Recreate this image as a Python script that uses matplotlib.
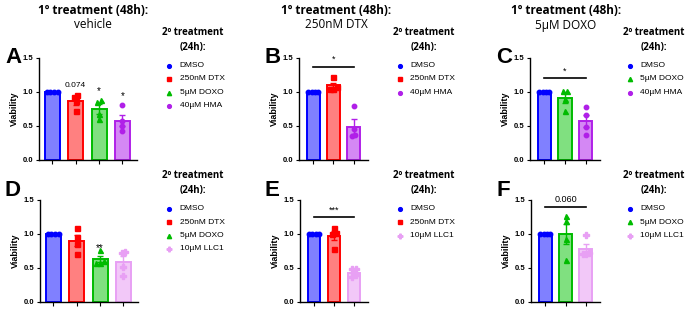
import numpy as np
import matplotlib
matplotlib.use("Agg")
import matplotlib.pyplot as plt
from matplotlib.lines import Line2D

# ---- data ----
a_labels = ["DMSO", "250nM DTX", "5µM DOXO", "40µM HMA"]
a_vals = [[1.0, 1.0, 1.0, 1.0], [0.95, 0.93, 0.87, 0.72], [0.88, 0.86, 0.67, 0.60], [0.81, 0.58, 0.50, 0.43]]

b_labels = ["DMSO", "250nM DTX", "40µM HMA"]
b_vals = [[1.0, 1.0, 1.0, 1.0], [1.22, 1.08, 1.05, 1.04], [0.80, 0.45, 0.37, 0.35]]

c_labels = ["DMSO", "5µM DOXO", "40µM HMA"]
c_vals = [[1.0, 1.0, 1.0, 1.0], [1.01, 1.02, 0.89, 0.72], [0.78, 0.66, 0.49, 0.37]]

d_labels = ["DMSO", "250nM DTX", "5µM DOXO", "10µM LLC1"]
d_vals = [[1.0, 1.0, 1.0, 1.0], [1.09, 0.96, 0.85, 0.70], [0.77, 0.60, 0.58, 0.57], [0.73, 0.72, 0.51, 0.38]]

e_labels = ["DMSO", "250nM DTX", "10µM LLC1"]
e_vals = [[1.0, 1.0, 1.0, 1.0], [1.09, 1.02, 1.0, 0.78], [0.49, 0.48, 0.39, 0.37]]

f_labels = ["DMSO", "5µM DOXO", "10µM LLC1"]
f_vals = [[1.0, 1.0, 1.0, 1.0], [1.27, 1.19, 0.93, 0.62], [0.99, 0.72, 0.70, 0.70]]

titles = ["vehicle", "250nM DTX", "5µM DOXO"]

# style per treatment: edge, fill, marker, marker size
styles = {
    "DMSO": ("#0000ff", "#8080ff", "o", 3.2),
    "250nM DTX": ("#ff0000", "#ff8080", "s", 3.6),
    "5µM DOXO": ("#00bb00", "#80e080", "^", 3.6),
    "40µM HMA": ("#b020e8", "#d488f4", "o", 3.2),
    "10µM LLC1": ("#e8a0f4", "#f2c8f8", "P", 4.0),
}

W, H = 685, 311
fig = plt.figure(figsize=(W / 100, H / 100), dpi=100)
plt.rcParams["font.family"] = ["Liberation Sans", "DejaVu Sans"]


def pax(l, t, r, b):
    return fig.add_axes([l / W, 1 - b / H, (r - l) / W, (b - t) / H])


def dodge(vals, step=0.16, tol=0.05):
    vals = np.asarray(vals)
    off = np.zeros(len(vals))
    order = np.argsort(vals)
    clusters = [[order[0]]]
    for i in order[1:]:
        if vals[i] - vals[clusters[-1][-1]] < tol:
            clusters[-1].append(i)
        else:
            clusters.append([i])
    for c in clusters:
        n = len(c)
        for k, i in enumerate(c):
            off[i] = (k - (n - 1) / 2) * step
    return off


def panel(ax, labels, vals, xlim):
    for i, (lab, v) in enumerate(zip(labels, vals)):
        ec, fc, mk, ms = styles[lab]
        v = np.asarray(v)
        m = v.mean()
        sem = v.std(ddof=1) / np.sqrt(len(v))
        ax.bar(i, m, width=0.64, color=fc, edgecolor=ec, linewidth=1.4, zorder=2)
        if sem > 0:
            ax.errorbar(i, m, yerr=sem, color=ec, capsize=2.5, elinewidth=1, capthick=1, zorder=3)
        ax.plot(i + dodge(v), v, mk, color=ec, ms=ms, mec=ec, zorder=4, clip_on=False)
    ax.set_xlim(*xlim)
    ax.set_ylim(0, 1.5)
    ax.set_yticks([0, 0.5, 1.0, 1.5])
    ax.set_yticklabels(["0.0", "0.5", "1.0", "1.5"])
    ax.set_xticks(range(len(labels)))
    ax.set_xticklabels([])
    for s in ["top", "right"]:
        ax.spines[s].set_visible(False)
    for s in ["left", "bottom"]:
        ax.spines[s].set_linewidth(1.0)
    ax.tick_params(axis="y", labelsize=5.5, length=2.5, width=0.8, pad=1.5)
    ax.tick_params(axis="x", length=3, width=0.8)
    for t in ax.get_yticklabels():
        t.set_fontweight("bold")
    ax.set_ylabel("Viability", fontsize=6.5, fontweight="bold", labelpad=3)


def sig(ax, x0, x1, y, txt):
    ax.plot([x0, x1], [y, y], color="black", lw=1.2, clip_on=False)
    ax.text((x0 + x1) / 2, y + 0.04, txt, ha="center", va="bottom", fontsize=6.5)


def legend(labels, cx, ytop):
    # title centred at cx, entries below (pixel positions)
    fig.text(cx / W, 1 - ytop / H, "2º treatment\n(24h):", ha="center", va="center",
             multialignment="center", family="Open Sans", fontweight="bold", fontsize=7,
             linespacing=1.45)
    left = cx - 30
    for k, lab in enumerate(labels):
        ec, fc, mk, ms = styles[lab]
        y = 1 - (ytop + 25.5 + 13.5 * k) / H
        fig.add_artist(Line2D([(left + 5.5) / W], [y], ls="none", marker=mk, color=ec,
                              ms=ms * 0.85, transform=fig.transFigure))
        fig.text((left + 16.5) / W, y, lab, ha="left", va="center", fontsize=6)


four = (-0.56, 3.62)
three = (-0.7, 2.7)

axA = pax(39, 58, 137, 160)
panel(axA, a_labels, a_vals, four)
axA.text(1, 1.04, "0.074", ha="center", va="bottom", fontsize=6)
axA.text(2, 0.94, "*", ha="center", va="bottom", fontsize=7)
axA.text(3, 0.87, "*", ha="center", va="bottom", fontsize=7)

axB = pax(299, 58, 368, 160)
panel(axB, b_labels, b_vals, three)
sig(axB, 0, 2, 1.37, "*")

axC = pax(530, 58, 600, 160)
panel(axC, c_labels, c_vals, three)
sig(axC, 0, 2, 1.2, "*")

axD = pax(40, 200, 138, 302)
panel(axD, d_labels, d_vals, four)
axD.text(2, 0.72, "**", ha="center", va="bottom", fontsize=7)

axE = pax(300, 200, 368, 302)
panel(axE, e_labels, e_vals, three)
sig(axE, 0, 2, 1.245, "***")

axF = pax(531, 200, 600, 302)
panel(axF, f_labels, f_vals, three)
sig(axF, 0, 2, 1.40, "0.060")

# panel letters
for (x, y, s) in [(5, 63, "A"), (265, 63, "B"), (496, 63, "C"),
                  (4, 196, "D"), (264, 196, "E"), (497, 196, "F")]:
    fig.text(x / W, 1 - y / H, s, fontsize=16, fontweight="bold", va="baseline")

# column titles
for cx, t in zip([93, 336, 566], titles):
    fig.text(cx / W, 1 - 10 / H, "1º treatment (48h):", ha="center", va="center",
             fontsize=8.5, fontweight="bold", family="Open Sans")
    fig.text(cx / W, 1 - 25 / H, t, ha="center", va="center", fontsize=8.5, family="Open Sans")

legend(a_labels, 193, 40)
legend(b_labels, 424, 40)
legend(c_labels, 654, 40)
legend(d_labels, 193, 183)
legend(e_labels, 424, 183)
legend(f_labels, 654, 183)

fig.savefig("out.png", dpi=100)
